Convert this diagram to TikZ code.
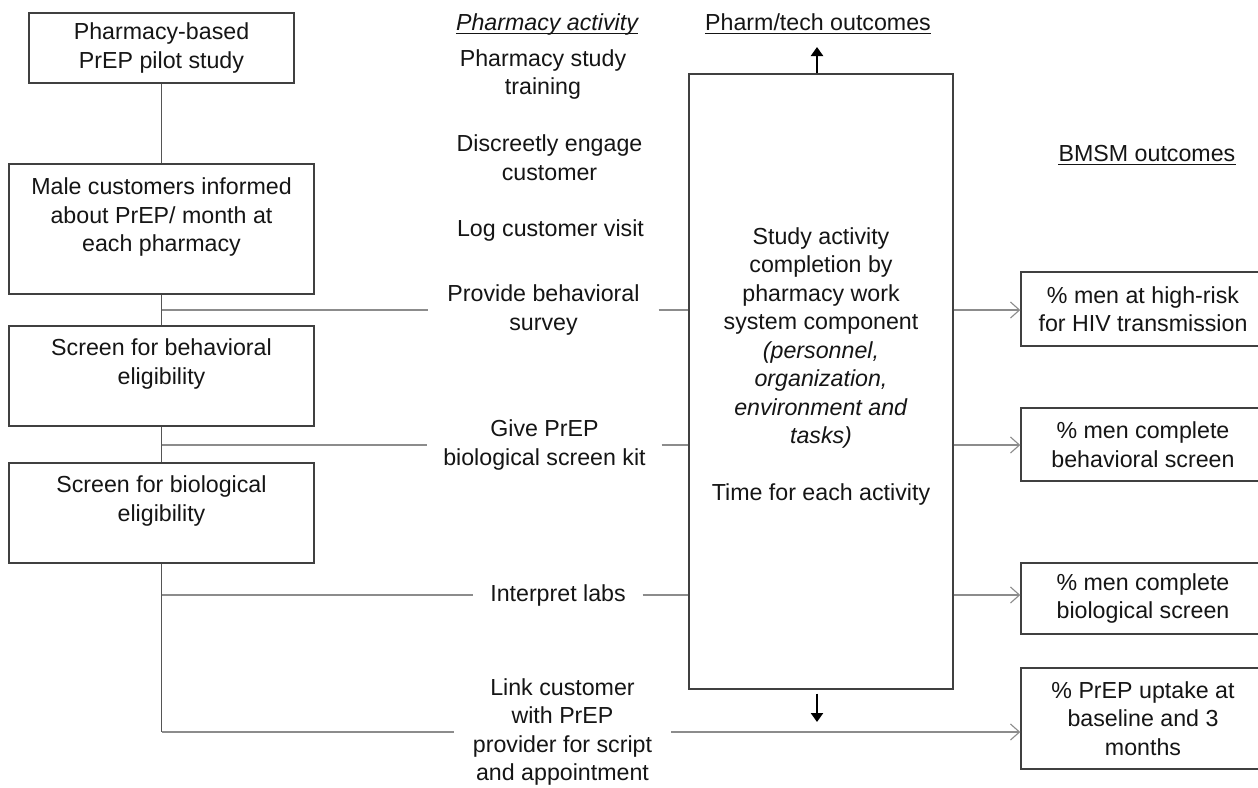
\documentclass[tikz,border=0pt]{standalone}
\usepackage{fontspec}
\setmainfont{Liberation Sans}
\usetikzlibrary{arrows.meta}
\definecolor{boxc}{HTML}{404040}
\definecolor{linec}{HTML}{8C8C8C}
\definecolor{trunkc}{HTML}{555555}
\definecolor{txtc}{HTML}{151515}
\newcommand\dfont{\fontsize{23.2}{28.5}\selectfont}
\begin{document}
\begin{tikzpicture}[x=1pt,y=-1pt,
  every node/.style={font=\dfont, text=txtc},
  flowbox/.style={draw=boxc, line width=1.4pt, align=center, inner sep=0pt},
  act/.style={align=center, inner sep=2pt, outer sep=17pt},
  conn/.style={draw=linec, line width=1.3pt},
  trunk/.style={draw=trunkc, line width=1.4pt},
  outarr/.style={conn, -{Straight Barb[length=9pt,width=16pt,line width=1.1pt]}},
  blk/.style={draw=black, line width=2.4pt, -{Triangle[length=9pt,width=12pt]}},
  ttl/.style={anchor=base, inner sep=0pt},
  uline/.style={draw=txtc, line width=1pt}
]
\useasboundingbox (0,0) rectangle (1258,787);
\fill[white] (0,0) rectangle (1258,787);

% left flow boxes
\node[flowbox, minimum width=265pt, minimum height=70pt] (b1) at (161.5,48) {Pharmacy-based\\PrEP pilot study};
\node[flowbox, minimum width=305pt, minimum height=130pt] (b2) at (161.5,229) {Male customers informed\\about PrEP/ month at\\each pharmacy\\ \mbox{}};
\node[flowbox, minimum width=305pt, minimum height=100pt] (b3) at (161.5,376) {Screen for behavioral\\eligibility\\ \mbox{}};
\node[flowbox, minimum width=305pt, minimum height=100pt] (b4) at (161.5,513) {Screen for biological\\eligibility\\ \mbox{}};

\coordinate (t1) at (161.5,310);
\coordinate (t2) at (161.5,445);
\coordinate (t3) at (161.5,595);
\coordinate (t4) at (161.5,732);

\draw[trunk] (b1.south) -- (b2.north);
\draw[trunk] (b2.south) -- (b3.north);
\draw[trunk] (b3.south) -- (b4.north);
\draw[trunk] (b4.south) -- (t4);

% headers
\node[ttl, font=\dfont\itshape] (h1) at (547,30) {Pharmacy activity};
\draw[uline] ([yshift=-3pt]h1.base west) -- ([yshift=-3pt]h1.base east);
\node[ttl] (h2) at (818,30) {Pharm/tech outcomes};
\draw[uline] ([yshift=-3pt]h2.base west) -- ([yshift=-3pt]h2.base east);
\node[ttl] (h3) at (1147,161) {BMSM outcomes};
\draw[uline] ([yshift=-3pt]h3.base west) -- ([yshift=-3pt]h3.base east);

% activities
\node[align=center] (p1) at (543,74.5) {Pharmacy study\\training};
\node[align=center] (p2) at (549.5,157.5) {Discreetly engage\\customer};
\node[align=center] (p3) at (550.5,230) {Log customer visit};
\node[act] (a1) at (543.5,310) {Provide behavioral\\survey};
\node[act, outer sep=14pt] (a2) at (544.5,445) {Give PrEP\\biological screen kit};
\node[act, outer sep=15pt] (a3) at (558,595) {Interpret labs};
\node[act] (a4) at (562.5,732) {Link customer\\with PrEP\\provider for script\\and appointment};

% big box
\node[draw=boxc, line width=1.4pt, minimum width=264pt, minimum height=615pt, inner sep=0pt] (big) at (821,381.5) {};
\node[align=center] (bigtext) at (821,366.5) {Study activity\\completion by\\pharmacy work\\system component\\\textit{(personnel,}\\\textit{organization,}\\\textit{environment and}\\\textit{tasks)}\\[28.5pt]Time for each activity};

% connectors left
\draw[conn] (t1) -- (a1.west);
\draw[conn] (t2) -- (a2.west);
\draw[conn] (t3) -- (a3.west);
\draw[conn] (t4) -- (a4.west);
\draw[conn] (a1.east) -- (a1.east -| big.west);
\draw[conn] (a2.east) -- (a2.east -| big.west);
\draw[conn] (a3.east) -- (a3.east -| big.west);

% outcome boxes
\node[flowbox, minimum width=244pt, minimum height=74pt] (o1) at (1143,309) {\% men at high-risk\\for HIV transmission};
\node[flowbox, minimum width=244pt, minimum height=73pt] (o2) at (1143,444.5) {\% men complete\\behavioral screen};
\node[flowbox, minimum width=244pt, minimum height=71pt] (o3) at (1143,598.5) {\% men complete\\biological screen};
\node[flowbox, minimum width=244pt, minimum height=101pt] (o4) at (1143,718.5) {\% PrEP uptake at\\baseline and 3\\months};

\draw[outarr] (big.east |- a1) -- (o1.west |- a1);
\draw[outarr] (big.east |- a2) -- (o2.west |- a2);
\draw[outarr] (big.east |- a3) -- (o3.west |- a3);
\draw[outarr] (a4.east) -- (o4.west |- a4);

% black arrows
\coordinate (uptip) at (817,47);
\coordinate (dntip) at (817,722);
\draw[blk] (uptip |- big.north) -- (uptip);
\draw[blk] ([yshift=-4pt]dntip |- big.south) -- (dntip);
\end{tikzpicture}
\end{document}
